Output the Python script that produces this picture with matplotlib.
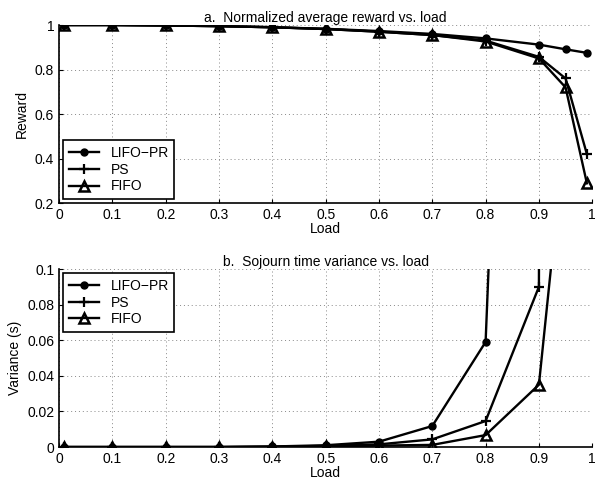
import matplotlib
matplotlib.use('Agg')
import matplotlib.pyplot as plt
import numpy as np

plt.rcParams['font.family'] = ['Liberation Sans', 'DejaVu Sans']
plt.rcParams['font.size'] = 10

# load points
load = [0.01, 0.1, 0.2, 0.3, 0.4, 0.5, 0.6, 0.7, 0.8, 0.9, 0.95, 0.99]

# a. normalized average reward
reward_lifo = [1.0, 1.0, 0.998, 0.995, 0.99, 0.983, 0.973, 0.96, 0.94, 0.912, 0.891, 0.875]
reward_ps = [1.0, 1.0, 0.998, 0.995, 0.99, 0.982, 0.97, 0.955, 0.93, 0.857, 0.76, 0.42]
reward_fifo = [1.0, 1.0, 0.998, 0.995, 0.99, 0.982, 0.97, 0.955, 0.926, 0.85, 0.72, 0.289]

# b. sojourn time variance (points beyond 0.1 go off the top)
var_lifo = [0.0, 0.0, 0.0, 0.0, 0.0003, 0.001, 0.003, 0.0118, 0.059, 0.8, 5.0, 50.0]
var_ps = [0.0, 0.0, 0.0, 0.0, 0.0002, 0.0006, 0.0015, 0.0043, 0.0146, 0.09, 5.0, 50.0]
var_fifo = [0.0, 0.0, 0.0, 0.0, 0.0001, 0.0003, 0.0008, 0.0012, 0.0067, 0.035, 0.18, 5.0]

labels = ['LIFO\u2212PR', 'PS', 'FIFO']

fig = plt.figure(figsize=(5.97, 4.86), dpi=100)
ax1 = fig.add_axes([0.099, 0.582, 0.893, 0.3665])
ax2 = fig.add_axes([0.099, 0.0802, 0.893, 0.3663])

styles = [dict(marker='o', ms=5, mfc='k'),
          dict(marker='+', ms=7, mew=1.6),
          dict(marker='^', ms=6.5, mfc='none', mew=1.8)]

for ax, series in [(ax1, [reward_lifo, reward_ps, reward_fifo]),
                   (ax2, [var_lifo, var_ps, var_fifo])]:
    for y, lab, st in zip(series, labels, styles):
        ax.plot(load, y, color='k', lw=1.7, label=lab, **st)
    ax.set_xlim(0, 1)
    ax.set_xticks(np.arange(0, 1.01, 0.1))
    ax.set_xticklabels(['0', '0.1', '0.2', '0.3', '0.4', '0.5', '0.6', '0.7', '0.8', '0.9', '1'])
    ax.grid(True, linestyle=(0, (1, 3)), color='#888888', lw=0.7)
    ax.tick_params(direction='in', length=3, labelsize=10)
    ax.spines['top'].set_visible(False)
    ax.spines['right'].set_visible(False)
    ax.spines['left'].set_linewidth(1.2)
    ax.spines['bottom'].set_linewidth(1.2)
    ax.set_xlabel('Load', labelpad=0)

ax1.set_ylim(0.2, 1)
ax1.set_yticks([0.2, 0.4, 0.6, 0.8, 1])
ax1.set_yticklabels(['0.2', '0.4', '0.6', '0.8', '1'])
ax1.set_ylabel('Reward')
ax1.set_title('a.  Normalized average reward vs. load', fontsize=10, pad=2)
leg1 = ax1.legend(loc='lower left', fancybox=False, edgecolor='k', framealpha=1,
                  borderaxespad=0.3, handlelength=2.2, labelspacing=0.2)
leg1.get_frame().set_linewidth(1.2)

ax2.set_ylim(0, 0.1)
ax2.set_yticks([0, 0.02, 0.04, 0.06, 0.08, 0.1])
ax2.set_yticklabels(['0', '0.02', '0.04', '0.06', '0.08', '0.1'])
ax2.set_ylabel('Variance (s)')
ax2.set_title('b.  Sojourn time variance vs. load', fontsize=10, pad=2)
leg2 = ax2.legend(loc='upper left', fancybox=False, edgecolor='k', framealpha=1,
                  borderaxespad=0.3, handlelength=2.2, labelspacing=0.2)
leg2.get_frame().set_linewidth(1.2)

fig.savefig('out.png', dpi=100)
